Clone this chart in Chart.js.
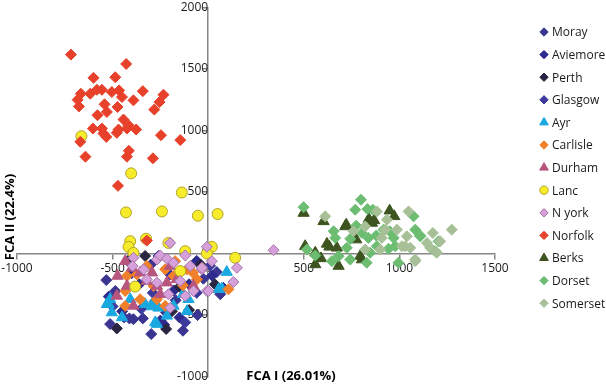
<!DOCTYPE html>
<html>
<head>
<meta charset="utf-8">
<script src="https://cdn.jsdelivr.net/npm/chart.js@4/dist/chart.umd.min.js"></script>
<style>
html, body { margin: 0; padding: 0; background: #fff; }
#wrap { width: 606px; height: 384px; }
</style>
</head>
<body>
<div id="wrap"><canvas id="grafica"></canvas></div>
<script>
// FCA scores per population, [FCA I, FCA II]
const moray = [[-533,-216],[-513,-574],[-412,-528],[-391,-534],[-342,-528],[-298,-655],[-132,-628],[-56,-501],[45,-151],[63,-331],[-486,-305],[-220,-480],[-170,-380],[-25,-205],[-300,-90]];
const aviemore = [[-450,-470],[-250,-545],[-180,-300],[-100,-250],[-60,-60],[20,-180],[-360,-250],[-520,-350],[-230,-580],[-150,-520],[80,-280],[-400,-160]];
const perth = [[-478,-609],[-220,-614],[-330,-20],[-150,-270],[-40,-90],[35,-250],[-280,-390],[-100,-460],[-420,-60],[-190,-470]];
const glasgow = [[-440,-520],[-290,-320],[-120,-560],[-60,-320],[10,-100],[-350,-450],[-200,-170],[70,-290],[-500,-430],[-260,-20]];
const ayr = [[-530,-412],[-451,-520],[-294,-431],[-277,-560],[-181,-426],[-132,-331],[-103,-372],[97,-151],[72,-286],[-330,-412],[-216,-507],[-408,-372],[-513,-372],[-260,-442],[-111,-469],[-521,-412],[-504,-480],[-294,-412],[-268,-574],[54,-291]];
const carlisle = [[-425,-183],[-434,-305],[-356,-372],[-434,-426],[-286,-264],[-173,-62],[-132,-259],[-80,-156],[-59,-210],[-33,-116],[106,-291],[-181,-183],[-225,-129],[-321,-102],[-268,-372],[-225,-426],[-111,-129],[-373,-170]];
const durham = [[-434,-62],[-474,-183],[-399,-116],[-321,-224],[-268,-264],[-216,-237],[-478,-345],[-391,-426],[-356,-156],[-251,-331],[-164,-210],[-77,-264],[-294,-156],[-199,-102],[-425,-264]];
const lanc = [[-663,954],[-403,652],[-138,496],[-430,334],[-242,342],[-54,307],[49,321],[-408,100],[-417,54],[-391,5],[-208,86],[-120,19],[19,54],[-7,0],[141,-35],[-146,-143],[-382,-269],[-325,120]];
const nyork = [[-199,86],[-7,54],[-120,-16],[-391,-35],[-395,-102],[-268,-49],[-251,-16],[-216,-43],[-181,-75],[-94,-102],[-33,-129],[19,-62],[150,-116],[132,-232],[-7,-305],[-77,-305],[-321,-210],[-268,-237],[-208,-331],[-146,-224],[-199,-442],[342,27],[-120,-345],[-338,-129],[2,-305],[-33,-116]];
const norfolk = [[-718,1617],[-429,1541],[-600,1428],[-486,1433],[-683,1250],[-666,1299],[-676,1196],[-617,1299],[-582,1331],[-556,1331],[-504,1313],[-466,1326],[-451,1272],[-391,1245],[-342,1320],[-234,1291],[-255,1231],[-282,1170],[-542,1213],[-474,1191],[-530,1151],[-579,1124],[-443,1089],[-603,1016],[-556,1016],[-548,976],[-533,948],[-478,981],[-469,1008],[-425,1016],[-377,1008],[-417,1043],[-247,962],[-146,922],[-669,908],[-415,835],[-425,787],[-642,787],[-289,774],[-472,550],[-321,105]];
const berks = [[499,329],[603,261],[717,220],[856,248],[949,348],[973,302],[868,269],[621,78],[673,46],[507,59],[560,6],[804,-49],[682,-102],[560,-89],[774,113],[634,54],[722,234],[795,-22],[590,-40],[840,280]];
const dorset = [[499,377],[799,437],[769,356],[833,361],[861,356],[656,181],[664,127],[743,119],[725,46],[743,-49],[647,-62],[682,-22],[516,32],[560,-16],[829,-75],[774,226],[804,167],[838,127],[879,146],[917,194],[949,181],[970,127],[943,38],[995,-75],[978,59],[1083,194],[1074,302],[1109,146],[1205,99],[1187,19],[847,6],[882,59],[1109,140]];
const somerset = [[612,302],[882,342],[935,275],[1048,342],[926,194],[987,194],[1039,140],[1013,59],[1057,46],[1144,86],[1175,167],[1274,194],[1083,-49],[821,220],[821,32],[908,127],[900,32],[760,181],[1161,46],[1213,99],[1196,6],[1030,59],[1083,-62]];

const names = ['Moray', 'Aviemore', 'Perth', 'Glasgow', 'Ayr', 'Carlisle', 'Durham', 'Lanc', 'N york', 'Norfolk', 'Berks', 'Dorset', 'Somerset'];
const series = [moray, aviemore, perth, glasgow, ayr, carlisle, durham, lanc, nyork, norfolk, berks, dorset, somerset];
const xTicks = [-1000, -500, 0, 500, 1000, 1500];
const yTicks = [-1000, -500, 0, 500, 1000, 1500, 2000];

const fills = ['#3a3591', '#2f2b8e', '#29243f', '#3d3a9e', '#1aa8e0', '#f0802a', '#b8557f', '#f6ec2c', '#d6a0da', '#e8412b', '#3e5420', '#6cbd72', '#a8c097'];
const borders = ['#3a3591', '#2f2b8e', '#29243f', '#3d3a9e', '#1aa8e0', '#f0802a', '#b8557f', '#b3a424', '#a474ab', '#e8412b', '#3e5420', '#6cbd72', '#a8c097'];
const shapes = ['rectRot', 'rectRot', 'rectRot', 'rectRot', 'triangle', 'rectRot', 'triangle', 'circle', 'rectRot', 'rectRot', 'triangle', 'rectRot', 'rectRot'];
const radii = [5.5, 5.5, 5.5, 5.5, 6.5, 5.5, 6.5, 5.5, 5.5, 5.5, 6.5, 5.5, 5.5];

Chart.defaults.font.family = "'Open Sans', sans-serif";
Chart.defaults.font.size = 12;
Chart.defaults.color = '#1a1a1a';

const datasets = series.map((pts, i) => ({
    label: names[i],
    data: pts.map(p => ({x: p[0], y: p[1]})),
    pointStyle: shapes[i],
    pointRadius: radii[i],
    pointHoverRadius: radii[i],
    backgroundColor: fills[i],
    borderColor: borders[i],
    borderWidth: 1,
    order: series.length - i
}));

const extras = {
    id: 'extras',
    afterDraw(chart) {
        const ctx = chart.ctx;
        ctx.save();
        ctx.fillStyle = '#000';
        ctx.font = "bold 13px 'Open Sans'";
        ctx.textAlign = 'center';
        ctx.textBaseline = 'middle';
        ctx.fillText('FCA I (26.01%)', 291, 376);
        ctx.translate(10, 217);
        ctx.rotate(-Math.PI / 2);
        ctx.fillText('FCA II (22.4%)', 0, 0);
        ctx.restore();

        // legend on the right
        ctx.save();
        ctx.font = "12px 'Open Sans'";
        ctx.textAlign = 'left';
        ctx.textBaseline = 'middle';
        chart.data.datasets.forEach((ds, i) => {
            const y = 32 + i * 22.6;
            ctx.fillStyle = ds.backgroundColor;
            ctx.strokeStyle = ds.borderColor;
            ctx.lineWidth = 1;
            Chart.helpers.drawPoint(ctx, {pointStyle: ds.pointStyle, radius: ds.pointStyle === 'triangle' ? 5 : 4.2, rotation: 0, borderWidth: 1}, 544, y);
            ctx.fillStyle = '#1a1a1a';
            ctx.fillText(ds.label, 552, y + 1);
        });
        ctx.restore();
    }
};

const graph = document.querySelector('#grafica');
new Chart(graph, {
    type: 'scatter',
    data: {datasets: datasets},
    options: {
        responsive: true,
        maintainAspectRatio: false,
        animation: false,
        layout: {padding: {left: 17, top: 6, right: 111, bottom: 7}},
        plugins: {legend: {display: false}, tooltip: {enabled: false}},
        scales: {
            x: {
                type: 'linear',
                position: {y: 0},
                min: -1000,
                max: 1500,
                afterBuildTicks: s => { s.ticks = xTicks.map(v => ({value: v})); },
                afterFit: s => { s.paddingLeft = 0; s.paddingRight = 0; },
                border: {color: '#868686', width: 1.5},
                grid: {drawOnChartArea: false, drawTicks: true, tickLength: 5, color: '#868686', lineWidth: 1.5},
                ticks: {padding: 3, maxRotation: 0, callback: v => String(v)}
            },
            y: {
                type: 'linear',
                position: {x: 0},
                min: -1000,
                max: 2000,
                afterBuildTicks: s => { s.ticks = yTicks.map(v => ({value: v})); },
                afterFit: s => { s.paddingTop = 0; s.paddingBottom = 0; },
                border: {color: '#868686', width: 1.5},
                grid: {drawOnChartArea: false, drawTicks: true, tickLength: 5, color: '#868686', lineWidth: 1.5},
                ticks: {padding: 3, callback: v => String(v)}
            }
        }
    },
    plugins: [extras]
});
</script>
</body>
</html>
